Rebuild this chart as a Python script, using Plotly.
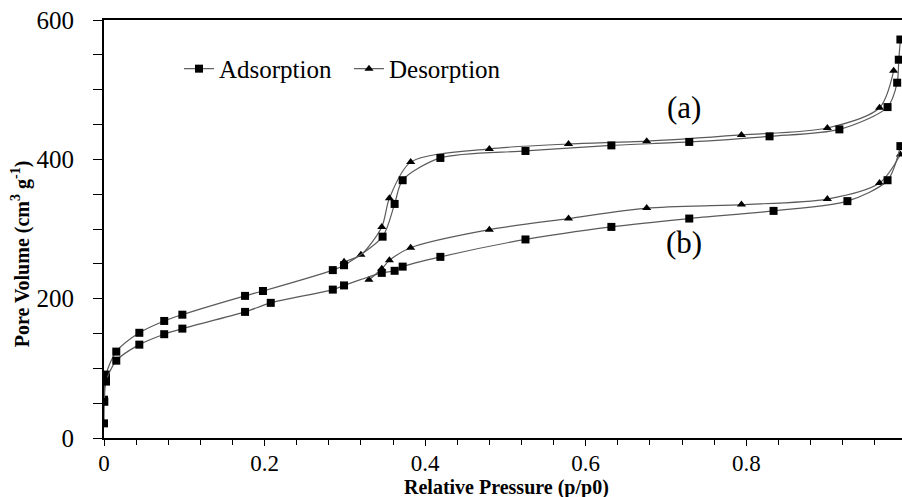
import plotly.graph_objects as go

# (a) sample
xa_ads = [0.0, 0.0025, 0.0153, 0.044, 0.075, 0.0976, 0.1757, 0.198, 0.285, 0.299, 0.347, 0.362,
          0.372, 0.419, 0.525, 0.632, 0.729, 0.829, 0.916, 0.976, 0.988, 0.990, 0.992]
ya_ads = [55, 91, 124, 151, 168, 177, 204, 211, 241, 248, 289, 336,
          370, 402, 412, 420, 425, 433, 443, 475, 510, 543, 572]
xa_des = [0.299, 0.320, 0.346, 0.3555, 0.382, 0.48, 0.5786, 0.676, 0.794, 0.901, 0.966, 0.9836]
ya_des = [253, 263, 303, 344, 396, 415, 422, 426, 435, 445, 474, 527]

# (b) sample
xb_ads = [0.0, 0.0004, 0.0025, 0.0153, 0.044, 0.075, 0.0976, 0.1757, 0.2077, 0.285, 0.299, 0.346,
          0.362, 0.372, 0.419, 0.525, 0.632, 0.729, 0.834, 0.926, 0.976, 0.992]
yb_ads = [21, 52, 81, 111, 134, 149, 157, 181, 194, 213, 219, 237,
          240, 246, 260, 285, 303, 315, 326, 340, 370, 419]
xb_des = [0.330, 0.346, 0.3555, 0.382, 0.48, 0.5786, 0.676, 0.794, 0.901, 0.966, 0.992]
yb_des = [227, 243, 255, 273, 299, 315, 330, 335, 343, 366, 407]

series_names = ["Adsorption", "Desorption"]
y_ticks = [0, 200, 400, 600]
x_ticks = [0, 0.2, 0.4, 0.6, 0.8]
x_tick_text = ["0", "0.2", "0.4", "0.6", "0.8"]

FONT = "Liberation Serif, Times New Roman, serif"
LINE = "#5a5a5a"

fig = go.Figure()

def add(x, y, name, symbol, show, legend):
    fig.add_trace(go.Scatter(
        x=x, y=y, mode="lines+markers", name=name, legendgroup=name, showlegend=show,
        legend=legend,
        line=dict(color=LINE, width=1.2, shape="spline", smoothing=0.8),
        marker=dict(symbol=symbol, size=8, color="black", line=dict(width=0)),
    ))

add(xa_des, ya_des, series_names[1], "triangle-up", True, "legend2")
add(xb_des, yb_des, series_names[1], "triangle-up", False, "legend2")
add(xa_ads, ya_ads, series_names[0], "square", True, "legend")
add(xb_ads, yb_ads, series_names[0], "square", False, "legend")

leg_common = dict(orientation="h", y=0.883, xanchor="left", yanchor="middle",
                  font=dict(family=FONT, size=25), itemwidth=30, bgcolor="rgba(0,0,0,0)")

fig.update_layout(
    width=902, height=497,
    margin=dict(l=104, r=0, t=20, b=59),
    paper_bgcolor="white", plot_bgcolor="white",
    font=dict(family=FONT, color="black", size=25),
    showlegend=True,
    legend=dict(x=0.094, **leg_common),
    legend2=dict(x=0.307, **leg_common),
    xaxis=dict(range=[0, 0.994], tickvals=x_ticks, ticktext=x_tick_text,
               showgrid=False, zeroline=False, showline=True, linecolor="black", linewidth=2,
               mirror=True, ticks="outside", ticklen=6, tickwidth=1.3, tickcolor="black",
               minor=dict(dtick=0.04, tick0=0, ticks="outside", ticklen=5, tickwidth=1.3, tickcolor="black"),
               tickfont=dict(family=FONT, size=23), ticklabelstandoff=-3),
    yaxis=dict(range=[0, 600], tickvals=y_ticks,
               showgrid=False, zeroline=False, showline=True, linecolor="black", linewidth=2,
               ticks="outside", ticklen=9, tickwidth=1.3, tickcolor="black",
               minor=dict(dtick=50, tick0=0, ticks="outside", ticklen=9, tickwidth=1.3, tickcolor="black"),
               tickfont=dict(family=FONT, size=25), ticklabelstandoff=14),
    annotations=[
        dict(text="(a)", x=0.723, y=475, xref="x", yref="y", showarrow=False,
             font=dict(family=FONT, size=31)),
        dict(text="(b)", x=0.723, y=281, xref="x", yref="y", showarrow=False,
             font=dict(family=FONT, size=31)),
        dict(text="<b>Pore Volume (cm<sup>3</sup> g<sup>-1</sup>)</b>", x=-0.105, y=0.44,
             xref="paper", yref="paper", textangle=-90, showarrow=False,
             xanchor="center", yanchor="middle", font=dict(family=FONT, size=20)),
        dict(text="<b>Relative Pressure (p/p0)</b>", x=0.505, y=-0.1184,
             xref="paper", yref="paper", showarrow=False,
             xanchor="center", yanchor="middle", font=dict(family=FONT, size=20)),
    ],
)

fig.write_html("out.html")
